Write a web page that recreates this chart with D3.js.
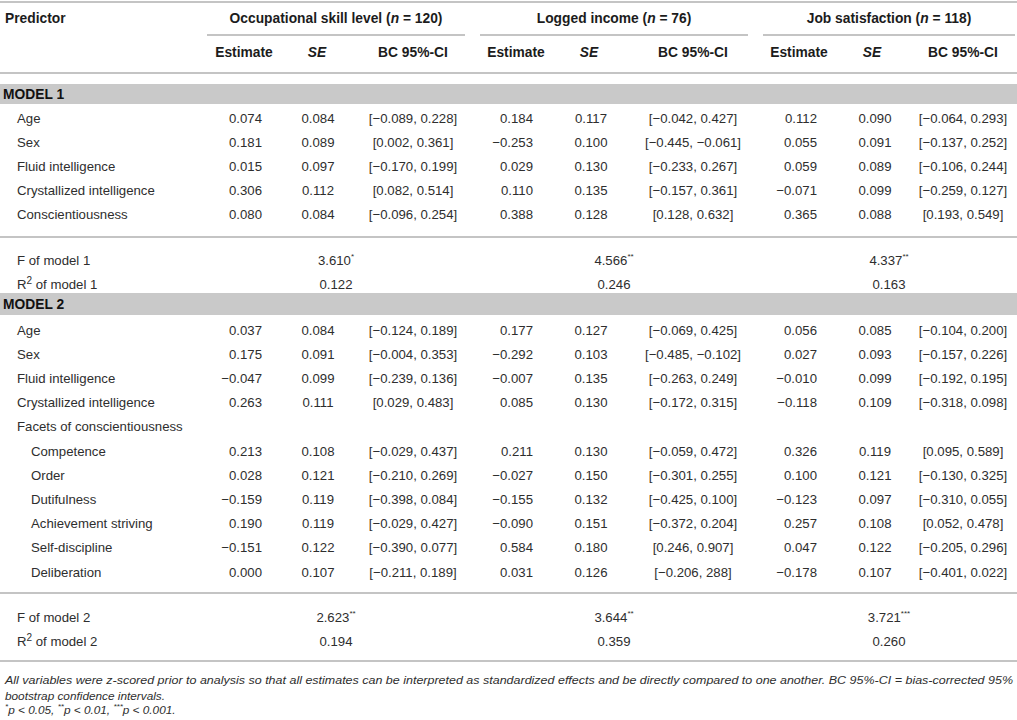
<!DOCTYPE html>
<html>
<head>
<meta charset="utf-8">
<script src="https://cdn.jsdelivr.net/npm/d3@7"></script>
<style>
  html, body { margin: 0; padding: 0; background: #fff; }
  svg text { font-family: "Liberation Sans", Arial, sans-serif; fill: #2e2e2e; }
</style>
</head>
<body>
<div id="table"></div>
<script>
const WIDTH = 1017;
const HEIGHT = 720;

// ---- data ----
const outcomes = ["Occupational skill level", "Logged income", "Job satisfaction"];
const sampleSizes = [120, 76, 118];
const subHeaders = ["Estimate", "SE", "BC 95%-CI"];

const predictors1 = ["Age", "Sex", "Fluid intelligence", "Crystallized intelligence", "Conscientiousness"];
const predictors2 = ["Age", "Sex", "Fluid intelligence", "Crystallized intelligence", "Facets of conscientiousness",
  "Competence", "Order", "Dutifulness", "Achievement striving", "Self-discipline", "Deliberation"];
const facetRows = [false, false, false, false, false, true, true, true, true, true, true];

// model 1 : one array per outcome
const occEst1 = [0.074, 0.181, 0.015, 0.306, 0.080];
const occSE1 = [0.084, 0.089, 0.097, 0.112, 0.084];
const occCI1 = ["[−0.089, 0.228]", "[0.002, 0.361]", "[−0.170, 0.199]", "[0.082, 0.514]", "[−0.096, 0.254]"];
const incEst1 = [0.184, -0.253, 0.029, 0.110, 0.388];
const incSE1 = [0.117, 0.100, 0.130, 0.135, 0.128];
const incCI1 = ["[−0.042, 0.427]", "[−0.445, −0.061]", "[−0.233, 0.267]", "[−0.157, 0.361]", "[0.128, 0.632]"];
const jobEst1 = [0.112, 0.055, 0.059, -0.071, 0.365];
const jobSE1 = [0.090, 0.091, 0.089, 0.099, 0.088];
const jobCI1 = ["[−0.064, 0.293]", "[−0.137, 0.252]", "[−0.106, 0.244]", "[−0.259, 0.127]", "[0.193, 0.549]"];

// model 2 (null = empty cell, the "Facets" heading row)
const occEst2 = [0.037, 0.175, -0.047, 0.263, null, 0.213, 0.028, -0.159, 0.190, -0.151, 0.000];
const occSE2 = [0.084, 0.091, 0.099, 0.111, null, 0.108, 0.121, 0.119, 0.119, 0.122, 0.107];
const occCI2 = ["[−0.124, 0.189]", "[−0.004, 0.353]", "[−0.239, 0.136]", "[0.029, 0.483]", "",
  "[−0.029, 0.437]", "[−0.210, 0.269]", "[−0.398, 0.084]", "[−0.029, 0.427]", "[−0.390, 0.077]", "[−0.211, 0.189]"];
const incEst2 = [0.177, -0.292, -0.007, 0.085, null, 0.211, -0.027, -0.155, -0.090, 0.584, 0.031];
const incSE2 = [0.127, 0.103, 0.135, 0.130, null, 0.130, 0.150, 0.132, 0.151, 0.180, 0.126];
const incCI2 = ["[−0.069, 0.425]", "[−0.485, −0.102]", "[−0.263, 0.249]", "[−0.172, 0.315]", "",
  "[−0.059, 0.472]", "[−0.301, 0.255]", "[−0.425, 0.100]", "[−0.372, 0.204]", "[0.246, 0.907]", "[−0.206, 288]"];
const jobEst2 = [0.056, 0.027, -0.010, -0.118, null, 0.326, 0.100, -0.123, 0.257, 0.047, -0.178];
const jobSE2 = [0.085, 0.093, 0.099, 0.109, null, 0.119, 0.121, 0.097, 0.108, 0.122, 0.107];
const jobCI2 = ["[−0.104, 0.200]", "[−0.157, 0.226]", "[−0.192, 0.195]", "[−0.318, 0.098]", "",
  "[0.095, 0.589]", "[−0.130, 0.325]", "[−0.310, 0.055]", "[0.052, 0.478]", "[−0.205, 0.296]", "[−0.401, 0.022]"];

// model fit
const fModel1 = [3.610, 4.566, 4.337];
const fStars1 = ["*", "**", "**"];
const r2Model1 = [0.122, 0.246, 0.163];
const fModel2 = [2.623, 3.644, 3.721];
const fStars2 = ["**", "**", "***"];
const r2Model2 = [0.194, 0.359, 0.260];

const noteLines = [
  "All variables were z-scored prior to analysis so that all estimates can be interpreted as standardized effects and be directly compared to one another. BC 95%-CI = bias-corrected 95%",
  "bootstrap confidence intervals."
];

// ---- layout ----
const fmt = d3.format(".3f");
const num = v => (v === null ? "" : fmt(v).replace("-", "−"));

const groups = [
  { est: occEst1, se: occSE1, ci: occCI1, est2: occEst2, se2: occSE2, ci2: occCI2 },
  { est: incEst1, se: incSE1, ci: incCI1, est2: incEst2, se2: incSE2, ci2: incCI2 },
  { est: jobEst1, se: jobSE1, ci: jobCI1, est2: jobEst2, se2: jobSE2, ci2: jobCI2 },
];
const colX = [
  { x0: 207, x1: 465, estH: 244, seH: 317, est: 262, se: 318, ci: 413 },
  { x0: 480, x1: 748, estH: 516, seH: 589, est: 533, se: 591, ci: 693 },
  { x0: 763, x1: 1015, estH: 799, seH: 872, est: 817, se: 875, ci: 963 },
];
colX.forEach(c => { c.mid = (c.x0 + c.x1) / 2; });

const y1 = d3.scaleLinear().domain([0, 1]).range([118, 142.2]);
const y2 = d3.scaleLinear().domain([0, 1]).range([330, 354.2]);

const svg = d3.select("#table").append("svg")
  .attr("width", WIDTH)
  .attr("height", HEIGHT);

const rule = (x0, x1, y) => svg.append("line")
  .attr("x1", x0).attr("x2", x1).attr("y1", y).attr("y2", y)
  .attr("stroke", "#c4c4c4").attr("stroke-width", 2);

const txt = (x, y, s, anchor = "start") => svg.append("text")
  .attr("x", x).attr("y", y)
  .attr("dominant-baseline", "central")
  .attr("text-anchor", anchor)
  .attr("font-size", 13.2)
  .text(s);

const bold = t => t.attr("font-weight", "bold").attr("font-size", 13.8).style("fill", "#1c1c1c");

// header
rule(0, WIDTH, 2);
bold(txt(5, 18, "Predictor"));
outcomes.forEach((o, i) => {
  const c = colX[i];
  const t = bold(txt(c.mid, 18, null, "middle"));
  t.append("tspan").text(o + " (");
  t.append("tspan").attr("font-style", "italic").text("n");
  t.append("tspan").text(" = " + sampleSizes[i] + ")");
  rule(c.x0, c.x1, 35);
  [c.estH, c.seH, c.ci].forEach((x, j) => {
    bold(txt(x, 52, subHeaders[j], "middle"))
      .attr("font-style", j === 1 ? "italic" : null);
  });
});
rule(0, WIDTH, 73);

// model bands
const band = (label, top, bottom) => {
  svg.append("rect")
    .attr("x", 0).attr("y", top)
    .attr("width", WIDTH).attr("height", bottom - top)
    .attr("fill", "#c9c9c9");
  bold(txt(3, (top + bottom) / 2, label)).style("fill", "#111");
};
band("MODEL 1", 84, 104);
band("MODEL 2", 293, 315);

// rows
const drawRows = (names, yScale, key, indent) => {
  names.forEach((p, r) => {
    const y = yScale(r);
    txt(indent ? indent[r] : 17, y, p);
    groups.forEach((g, i) => {
      const c = colX[i];
      txt(c.est, y, num(g[key.est][r]), "end");
      txt(c.se, y, num(g[key.se][r]), "middle");
      txt(c.ci, y, g[key.ci][r], "middle");
    });
  });
};
drawRows(predictors1, y1, { est: "est", se: "se", ci: "ci" });
drawRows(predictors2, y2, { est: "est2", se: "se2", ci: "ci2" }, facetRows.map(f => (f ? 31 : 17)));

// fit rows
const fitRows = (fy, ry, label, fVals, stars, r2Vals) => {
  txt(17, fy, "F of model " + label);
  const r = txt(17, ry, "R");
  r.append("tspan").attr("font-size", 10).attr("dy", -4).text("2");
  r.append("tspan").attr("dy", 4).text(" of model " + label);
  fVals.forEach((v, i) => {
    const t = txt(colX[i].mid, fy, null, "middle");
    t.append("tspan").text(fmt(v));
    t.append("tspan").attr("font-size", 8).attr("dy", -4).text(stars[i]);
    txt(colX[i].mid, ry, fmt(r2Vals[i]), "middle");
  });
};
rule(0, WIDTH, 237);
fitRows(260, 284, "1", fModel1, fStars1, r2Model1);
rule(0, WIDTH, 593);
fitRows(617, 641, "2", fModel2, fStars2, r2Model2);
rule(0, WIDTH, 661);

// notes
const note = (y, s) => txt(5, y, s).attr("font-size", 11.8).attr("font-style", "italic");
note(680, noteLines[0]).attr("textLength", 1008).attr("lengthAdjust", "spacingAndGlyphs");
note(696, noteLines[1]);
const last = note(710, null);
last.append("tspan").attr("font-size", 8).attr("dy", -4).text("*");
last.append("tspan").attr("dy", 4).text("p < 0.05, ");
last.append("tspan").attr("font-size", 8).attr("dy", -4).text("**");
last.append("tspan").attr("dy", 4).text("p < 0.01, ");
last.append("tspan").attr("font-size", 8).attr("dy", -4).text("***");
last.append("tspan").attr("dy", 4).text("p < 0.001.");
</script>
</body>
</html>
